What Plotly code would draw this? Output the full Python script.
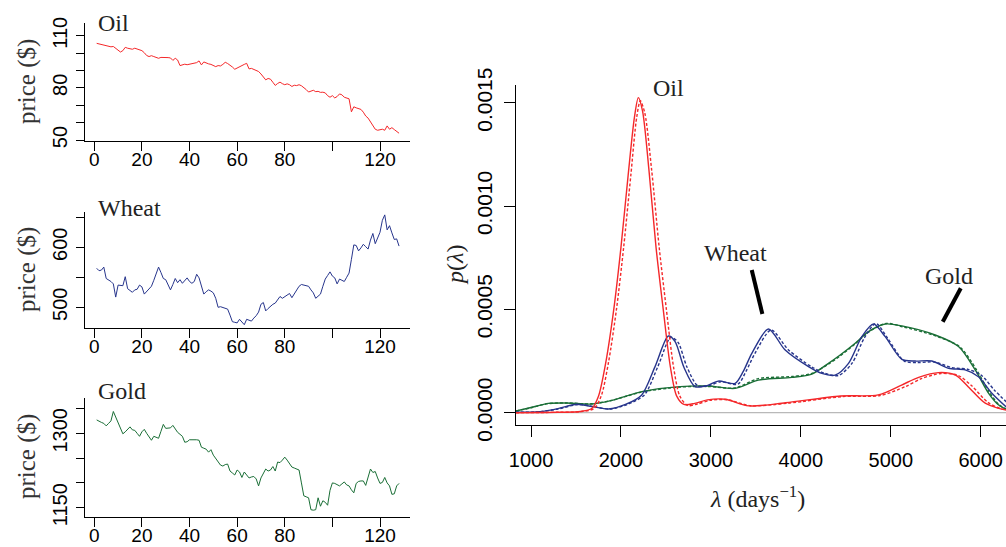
import plotly.graph_objects as go

# ---------------- data: left panels (daily prices) ----------------
days = list(range(1, 129))
oil_price = [105.6, 105.3, 105.0, 104.6, 104.3, 104.0, 103.6, 103.8, 102.7, 101.3,
             100.6, 101.4, 103.3, 102.8, 102.5, 102.2, 102.8, 102.2, 101.9, 101.4,
             100.2, 98.6, 98.0, 98.5, 98.0, 97.4, 97.0, 97.5, 97.6, 97.5,
             97.4, 97.2, 95.8, 97.0, 96.0, 92.8, 93.4, 93.6, 93.3, 93.5,
             93.7, 94.0, 94.5, 95.5, 93.2, 94.9, 94.2, 93.8, 93.5, 92.8,
             92.2, 92.8, 92.6, 93.5, 94.7, 94.0, 93.2, 92.0, 90.7, 91.5,
             92.2, 93.0, 93.5, 94.1, 90.9, 91.2, 90.7, 90.2, 89.4, 88.0,
             86.0, 84.6, 85.4, 85.0, 83.2, 81.4, 82.5, 83.3, 82.4, 81.8,
             82.3, 81.8, 80.8, 81.5, 81.3, 81.8, 81.2, 80.3, 79.0, 77.6,
             78.3, 78.6, 77.8, 78.0, 77.4, 77.5, 77.1, 75.5, 74.6, 75.5,
             74.2, 75.0, 76.5, 76.0, 74.6, 74.2, 73.7, 66.2, 69.1, 68.5,
             68.0, 67.6, 66.0, 63.8, 62.6, 60.5, 58.3, 56.2, 55.6, 55.9,
             56.2, 55.6, 58.1, 56.2, 57.1, 56.0, 54.8, 53.9]
wheat_price = [565, 561, 562, 567, 548, 546, 543, 539, 517, 537,
               537, 536, 551, 531, 528, 525, 529, 530, 537, 534,
               522, 526, 531, 535, 545, 556, 567, 558, 548, 546,
               537, 529, 538, 548, 541, 546, 540, 545, 549, 543,
               540, 543, 555, 549, 537, 522, 526, 529, 527, 524,
               515, 500, 501, 500, 498, 497, 487, 476, 475, 474,
               480, 475, 471, 480, 478, 477, 482, 486, 492, 505,
               508, 494, 498, 502, 505, 507, 513, 518, 515, 518,
               520, 523, 516, 522, 527, 535, 538, 537, 537, 535,
               529, 524, 515, 518, 522, 535, 547, 553, 559, 552,
               549, 539, 547, 545, 543, 550, 557, 580, 604, 603,
               594, 599, 605, 601, 597, 612, 623, 606, 615, 625,
               645, 654, 629, 636, 624, 613, 614, 602]
gold_price = [1327, 1324, 1322, 1320, 1315, 1320, 1325, 1344, 1333, 1322,
              1312, 1299, 1303, 1308, 1313, 1307, 1306, 1300, 1294, 1303,
              1308, 1300, 1293, 1286, 1294, 1292, 1290, 1304, 1318, 1310,
              1310, 1311, 1316, 1308, 1302, 1298, 1294, 1282, 1283, 1287,
              1287, 1288, 1287, 1286, 1272, 1270, 1268, 1262, 1267, 1256,
              1249, 1241, 1236, 1234, 1237, 1238, 1224, 1220, 1216, 1226,
              1222, 1211, 1222, 1216, 1210, 1212, 1213, 1208, 1194, 1210,
              1220, 1228, 1224, 1226, 1233, 1224, 1242, 1241, 1246, 1252,
              1246, 1240, 1232, 1230, 1228, 1226, 1200, 1174, 1172, 1170,
              1146, 1145, 1146, 1170, 1153, 1164, 1161, 1155, 1185, 1200,
              1199, 1196, 1194, 1198, 1202, 1196, 1194, 1186, 1180, 1199,
              1203, 1204, 1204, 1195, 1210, 1228, 1221, 1223, 1210, 1199,
              1201, 1211, 1200, 1194, 1177, 1178, 1194, 1199]

# ---------------- data: right panel (densities) ----------------
oil_lam = [830, 1300, 1550, 1675, 1750, 1830, 1920, 2000, 2080, 2150, 2193, 2240,
           2310, 2390, 2470, 2550, 2620, 2700, 2820, 2960, 3160, 3420, 3830, 4440,
           4860, 5120, 5310, 5530, 5720, 5860, 6050, 6200, 6290]
oil_p = [0.0, 0.000002, 0.000006, 0.00002, 0.00008, 0.00024, 0.0005, 0.0008, 0.00115,
         0.00143, 0.001525, 0.00146, 0.00118, 0.0008, 0.0005, 0.00022, 0.00008,
         0.00004, 0.000045, 0.000062, 0.000065, 0.000033, 0.000048, 0.000081,
         0.000086, 0.000134, 0.000171, 0.000194, 0.000182, 0.000126, 0.000046,
         0.000021, 0.000012]
oil_lam_d = [830, 1300, 1550, 1700, 1780, 1860, 1950, 2030, 2110, 2175, 2215, 2265,
             2340, 2425, 2505, 2585, 2655, 2740, 2850, 2990, 3180, 3440, 3860, 4460,
             4880, 5160, 5340, 5560, 5750, 5900, 6080, 6220, 6290]
oil_p_d = [0.0, 0.000002, 0.000005, 0.00002, 0.00008, 0.00024, 0.0005, 0.0008, 0.00115,
           0.00143, 0.00151, 0.00145, 0.00118, 0.0008, 0.0005, 0.00022, 0.00008,
           0.000035, 0.000042, 0.00006, 0.000063, 0.000034, 0.000046, 0.000078,
           0.000083, 0.000126, 0.000165, 0.00019, 0.00018, 0.00013, 0.00005,
           0.00002, 0.000014]

wheat_lam = [830, 1100, 1300, 1508, 1700, 1860, 2050, 2231, 2379, 2527, 2602, 2700,
             2824, 2950, 3083, 3269, 3360, 3455, 3640, 3826, 4085, 4233, 4381, 4530,
             4678, 4808, 4938, 5123, 5271, 5457, 5642, 5827, 5975, 6124, 6290]
wheat_p = [0.000002, 0.000005, 0.00002, 0.000041, 0.000028, 0.000018, 0.00004, 0.000086,
           0.000223, 0.000371, 0.000344, 0.00022, 0.000126, 0.00013, 0.000153,
           0.000142, 0.0002, 0.000287, 0.000405, 0.000303, 0.000223, 0.00019,
           0.000182, 0.000239, 0.000368, 0.000429, 0.000368, 0.000258, 0.00025,
           0.00025, 0.000215, 0.000207, 0.000174, 0.000094, 0.000025]
wheat_lam_d = [830, 1100, 1300, 1530, 1720, 1880, 2070, 2260, 2410, 2555, 2635, 2735,
               2855, 2980, 3110, 3300, 3390, 3490, 3670, 3860, 4120, 4270, 4420, 4570,
               4710, 4835, 4965, 5150, 5300, 5490, 5680, 5860, 6010, 6150, 6290]
wheat_p_d = [0.000002, 0.000005, 0.000018, 0.00004, 0.000027, 0.000018, 0.00004, 0.000086,
             0.000223, 0.000365, 0.00034, 0.00022, 0.00013, 0.000132, 0.00015,
             0.000138, 0.0002, 0.000287, 0.0004, 0.000305, 0.000222, 0.00019,
             0.00018, 0.00024, 0.000365, 0.000432, 0.00036, 0.00025, 0.000243,
             0.000245, 0.000218, 0.00021, 0.00018, 0.00011, 0.00005]

gold_lam = [830, 1000, 1192, 1400, 1675, 1900, 2231, 2657, 2972, 3269, 3528, 3900,
            4122, 4307, 4437, 4604, 4752, 4938, 5123, 5494, 5753, 5939, 6088, 6200, 6290]
gold_p = [0.000008, 0.000025, 0.000045, 0.000047, 0.000042, 0.00006, 0.000102,
          0.000126, 0.000129, 0.000118, 0.000158, 0.000171, 0.000187, 0.000239,
          0.000279, 0.000336, 0.000392, 0.000429, 0.00042, 0.000376, 0.00032,
          0.000207, 0.000094, 0.000037, 0.000015]
gold_lam_d = [830, 1000, 1192, 1400, 1675, 1900, 2231, 2657, 2972, 3269, 3528, 3900,
              4122, 4307, 4437, 4604, 4752, 4950, 5140, 5510, 5770, 5950, 6095, 6200, 6290]
gold_p_d = [0.000008, 0.000024, 0.000044, 0.000047, 0.000043, 0.00006, 0.0001,
            0.000124, 0.000127, 0.00012, 0.000165, 0.000175, 0.00019, 0.000235,
            0.000275, 0.000333, 0.00039, 0.000432, 0.000415, 0.00037, 0.000318,
            0.00021, 0.0001, 0.00004, 0.000016]

# tick values
left_x_major = [0, 20, 40, 60, 80, 120]
left_x_minor = [100]
oil_y_major, oil_y_minor = [50, 80, 110], [60, 70, 90, 100]
wheat_y_major, wheat_y_minor = [500, 600], [550, 650]
gold_y_major, gold_y_minor = [1150, 1300], [1200, 1250, 1350]
lam_ticks = [1000, 2000, 3000, 4000, 5000, 6000]
p_ticks = [0, 0.0005, 0.001, 0.0015]
p_ticktext = ["0.0000", "0.0005", "0.0010", "0.0015"]

# ---------------- styling ----------------
RED = "#F4282A"
BLUE = "#27358C"
GREEN = "#1A6E36"
SANS = "Liberation Sans, Arial, sans-serif"
SERIF = "Liberation Serif, Times New Roman, serif"
W, H = 1006, 547


def px_x(p):
    return p / W


def px_y(p):
    return 1 - p / H


fig = go.Figure()

fig.add_trace(go.Scatter(x=days, y=oil_price, mode="lines", line=dict(color=RED, width=1),
                         xaxis="x", yaxis="y", showlegend=False))
fig.add_trace(go.Scatter(x=days, y=wheat_price, mode="lines", line=dict(color=BLUE, width=1),
                         xaxis="x2", yaxis="y2", showlegend=False))
fig.add_trace(go.Scatter(x=days, y=gold_price, mode="lines", line=dict(color=GREEN, width=1),
                         xaxis="x3", yaxis="y3", showlegend=False))

# zero reference line in right panel
fig.add_trace(go.Scatter(x=[830, 6300], y=[0, 0], mode="lines",
                         line=dict(color="#A8A8A8", width=1), xaxis="x4", yaxis="y4",
                         showlegend=False, hoverinfo="skip"))

for lam, p, lam_d, p_d, col in [(gold_lam, gold_p, gold_lam_d, gold_p_d, GREEN),
                                (wheat_lam, wheat_p, wheat_lam_d, wheat_p_d, BLUE),
                                (oil_lam, oil_p, oil_lam_d, oil_p_d, RED)]:
    fig.add_trace(go.Scatter(x=lam_d, y=p_d, mode="lines",
                             line=dict(color=col, width=1.4, dash="3px,2px", shape="spline", smoothing=0.8),
                             xaxis="x4", yaxis="y4", showlegend=False))
    fig.add_trace(go.Scatter(x=lam, y=p, mode="lines",
                             line=dict(color=col, width=1.4, shape="spline", smoothing=0.8),
                             xaxis="x4", yaxis="y4", showlegend=False))

left_xdom = [px_x(85), px_x(410)]
ax_common = dict(showline=True, linecolor="black", linewidth=1, ticks="outside",
                 tickcolor="black", showgrid=False, zeroline=False, mirror=False,
                 automargin=False)


def left_x(anchor):
    return dict(domain=left_xdom, range=[-3.9, 132.6], tickvals=left_x_major,
                minor=dict(tickvals=left_x_minor, ticks="outside", ticklen=9, tickcolor="black"),
                ticklen=9, tickfont=dict(family=SANS, size=19, color="black"),
                ticklabelstandoff=-8, anchor=anchor, **ax_common)


def left_y(dom, rng, tv, mv, anchor):
    return dict(domain=dom, range=rng, tickvals=tv,
                minor=dict(tickvals=mv, ticks="outside", ticklen=8, tickcolor="black"),
                ticklen=8, tickangle=-90,
                tickfont=dict(family=SANS, size=20, color="black"), ticklabelstandoff=1,
                anchor=anchor, **ax_common)


fig.update_layout(
    template="none",
    width=W, height=H, margin=dict(l=0, r=0, t=0, b=0, autoexpand=False),
    paper_bgcolor="white", plot_bgcolor="white", showlegend=False,
    xaxis=left_x("y"),
    yaxis=left_y([px_y(140.7), px_y(23)], [49.6, 117.3], oil_y_major, oil_y_minor, "x"),
    xaxis2=left_x("y2"),
    yaxis2=left_y([px_y(328.3), px_y(211.7)], [465, 659.3], wheat_y_major, wheat_y_minor, "x2"),
    xaxis3=left_x("y3"),
    yaxis3=left_y([px_y(516.7), px_y(398.3)], [1131.9, 1370.6], gold_y_major, gold_y_minor, "x3"),
    xaxis4=dict(domain=[px_x(516), 1.0], range=[833, 6281], tickvals=lam_ticks,
                ticklen=11, tickfont=dict(family=SANS, size=20, color="black"), ticklabelstandoff=6,
                anchor="y4", **ax_common),
    yaxis4=dict(domain=[px_y(425), px_y(85)], range=[-0.0000595, 0.001586],
                tickvals=p_ticks, ticktext=p_ticktext,
                ticklen=11, tickangle=-90, tickfont=dict(family=SANS, size=21, color="black"),
                ticklabelstandoff=4, anchor="x4", **ax_common),
)

annotations = []
# panel titles
for txt, y in [("Oil", 23), ("Wheat", 208), ("Gold", 391)]:
    annotations.append(dict(text=txt, x=px_x(96), y=px_y(y), xref="paper", yref="paper",
                            xanchor="left", yanchor="middle", showarrow=False,
                            font=dict(family=SERIF, size=24, color="#222")))
# y labels on left
for y in [82, 270, 457]:
    annotations.append(dict(text="price ($)", x=px_x(27), y=px_y(y), xref="paper", yref="paper",
                            textangle=-90, xanchor="center", yanchor="middle", showarrow=False,
                            font=dict(family=SERIF, size=25, color="#333")))
# right axis titles
annotations.append(dict(text="<i>λ</i> (days<sup>−1</sup>)", x=px_x(757), y=px_y(497), xref="paper",
                        yref="paper", showarrow=False, xanchor="center", yanchor="middle",
                        font=dict(family=SERIF, size=24, color="#222")))
annotations.append(dict(text="<i>p</i>(<i>λ</i>)", x=px_x(455), y=px_y(265), xref="paper",
                        yref="paper", showarrow=False, textangle=-90, xanchor="center",
                        yanchor="middle", font=dict(family=SERIF, size=24, color="#222")))
# curve labels
label_text = ["Oil", "Wheat", "Gold"]
label_lam = [2523, 3268, 5648]
label_p = [0.001572, 0.000773, 0.000662]
for t, lx, ly in zip(label_text, label_lam, label_p):
    annotations.append(dict(text=t, x=lx, y=ly, xref="x4", yref="y4", showarrow=False,
                            xanchor="center", yanchor="middle",
                            font=dict(family=SERIF, size=24, color="#222")))
fig.update_layout(annotations=annotations)

# pointer lines
pointer_lam = [(3454, 3572), (5778, 5578)]
pointer_p = [(0.000691, 0.000478), (0.000602, 0.00044)]
for (x0, x1), (y0, y1) in zip(pointer_lam, pointer_p):
    fig.add_shape(type="line", x0=x0, x1=x1, y0=y0, y1=y1, xref="x4", yref="y4",
                  line=dict(color="black", width=4))

fig.write_html(
    "out.html",
    config={"displayModeBar": False},
    post_script="document.documentElement.style.margin='0';document.body.style.margin='0';"
                "document.body.style.padding='0';document.body.style.overflow='hidden';",
)
